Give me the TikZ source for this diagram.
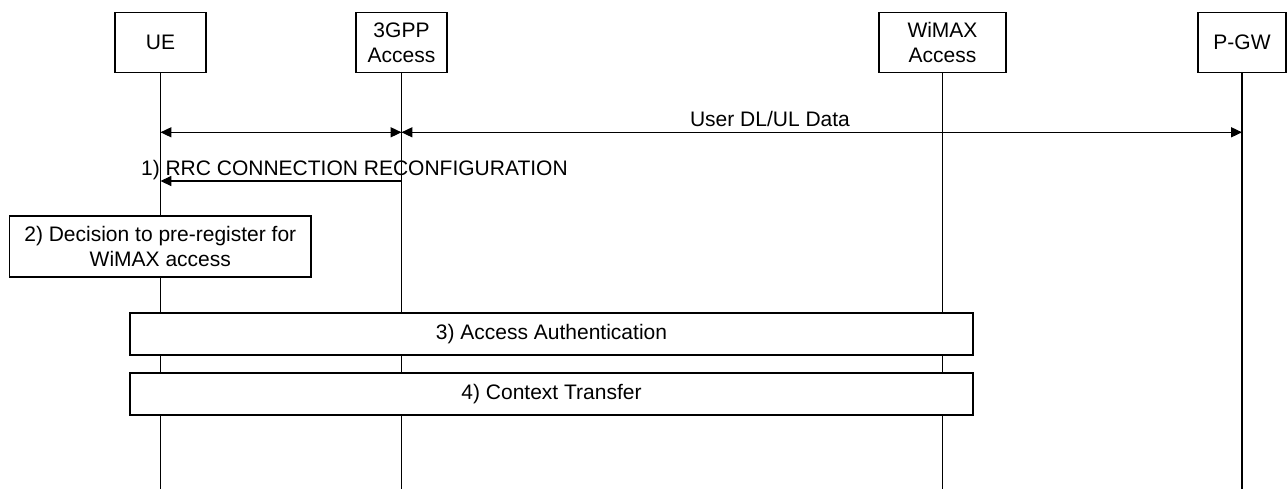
\documentclass[tikz,border=0pt]{standalone}
\usepackage{fontspec}
\setmainfont{Liberation Sans}
\usetikzlibrary{arrows.meta}
\begin{document}
\begin{tikzpicture}[x=0.5pt,y=-0.5pt,
  every node/.style={font=\fontsize{10.5}{12.5}\selectfont, inner sep=0pt},
  entity/.style={draw, line width=0.6pt, fill=white, minimum height=30pt, align=center},
  stepbox/.style={draw, line width=0.6pt, fill=white, align=center},
  life/.style={line width=0.55pt},
  msg/.style={line width=0.55pt, -{Triangle[length=5.4pt,width=5pt]}},
  dmsg/.style={line width=0.55pt, {Triangle[length=5.4pt,width=5pt]}-{Triangle[length=5.4pt,width=5pt]}},
  lbl/.style={inner sep=0pt, anchor=base}]
\useasboundingbox (0,0) rectangle (1287,489);
% entities
\node[entity, minimum width=45.5pt] (ue) at (160.5,42.3) {UE};
\node[entity, minimum width=45.5pt] (tgpp) at (401.5,42.3) {3GPP\\Access};
\node[entity, minimum width=63.5pt] (wimax) at (942.5,42.3) {WiMAX\\Access};
\node[entity, minimum width=44pt] (pgw) at (1242,42.3) {P-GW};
% lifeline ends
\coordinate (ueEnd) at (ue.south |- 0,489);
\coordinate (tgppEnd) at (tgpp.south |- 0,489);
\coordinate (wimaxEnd) at (wimax.south |- 0,489);
\coordinate (pgwEnd) at (pgw.south |- 0,489);
\draw[life] (ue.south) -- (ueEnd);
\draw[life] (tgpp.south) -- (tgppEnd);
\draw[life] (wimax.south) -- (wimaxEnd);
\draw[life] (pgw.south) -- (pgwEnd);
% message points
\coordinate (ueA) at (ue.south |- 0,132.3);
\coordinate (tgppA) at (tgpp.south |- 0,132.3);
\coordinate (pgwA) at (pgw.south |- 0,132.3);
\coordinate (ueB) at (ue.south |- 0,181);
\coordinate (tgppB) at (tgpp.south |- 0,181);
\draw[dmsg] (ueA) -- (tgppA);
\draw[dmsg] (tgppA) -- (pgwA);
\node[lbl] (dl) at (770,126.7) {User DL/UL Data};
\draw[msg] (tgppB) -- (ueB);
\node[lbl, anchor=base west] (rrc) at (140.7,175) {1) RRC CONNECTION RECONFIGURATION};
% steps
\node[stepbox, minimum width=150.75pt, minimum height=30.5pt] (s2) at (160.3,246.5) {2) Decision to pre-register for\\WiMAX access};
\node[stepbox, minimum width=421.5pt, minimum height=21pt] (s3) at (551.5,334) {3) Access Authentication};
\node[stepbox, minimum width=421.5pt, minimum height=21pt] (s4) at (551.5,394) {4) Context Transfer};
\end{tikzpicture}
\end{document}
